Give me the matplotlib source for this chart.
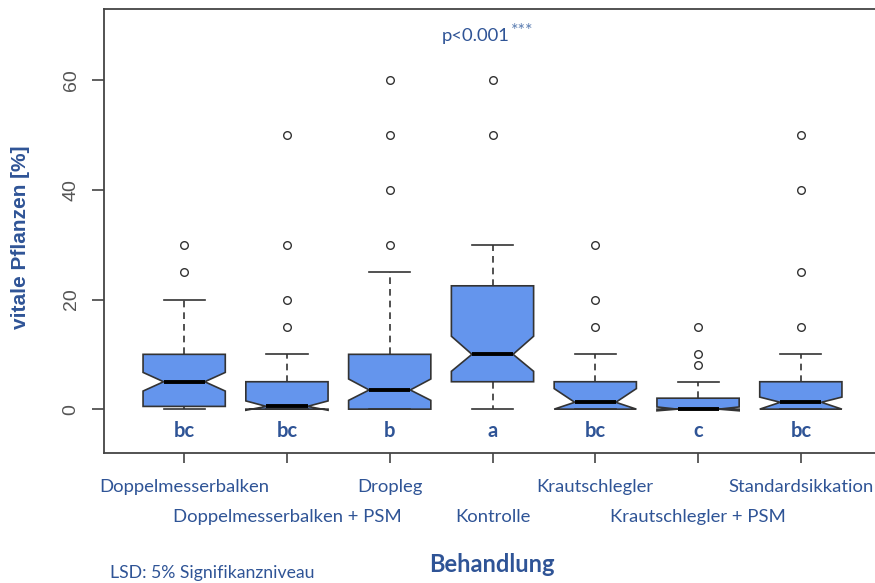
import matplotlib
matplotlib.use("Agg")
import matplotlib.pyplot as plt

# ---- data ----
groups = ["Doppelmesserbalken", "Doppelmesserbalken + PSM", "Dropleg", "Kontrolle",
          "Krautschlegler", "Krautschlegler + PSM", "Standardsikkation"]
whislo = [0, 0, 0, 0, 0, 0, 0]
q1 = [0.5, 0, 0, 5, 0, 0, 0]
med = [5, 0.5, 3.5, 10, 1.25, 0, 1.25]
q3 = [10, 5, 10, 22.5, 5, 2, 5]
whishi = [20, 10, 25, 30, 10, 5, 10]
cilo = [3.3, -0.2, 1.6, 6.9, 0, -0.3, 0]
cihi = [6.7, 1.5, 5.5, 13.3, 3.75, 0.4, 2.2]
fliers = [[25, 30], [15, 20, 30, 50], [30, 40, 50, 60], [50, 60],
          [15, 20, 30], [8, 10, 15], [15, 25, 40, 50]]
letters = ["bc", "bc", "b", "a", "bc", "c", "bc"]
yticks = [0, 20, 40, 60]

BLUE = "#2F5496"
FONT = "Lato"

fig = plt.figure(figsize=(8.75, 5.83), dpi=100)
ax = fig.add_axes([104 / 875, 1 - 453 / 583, (881 - 104) / 875, (453 - 9) / 583])

stats = []
for i in range(len(groups)):
    stats.append(dict(label=groups[i], whislo=whislo[i], q1=q1[i], med=med[i], q3=q3[i],
                      whishi=whishi[i], cilo=cilo[i], cihi=cihi[i], fliers=fliers[i]))

pos = list(range(1, len(groups) + 1))
ax.bxp(stats, positions=pos, widths=0.8, shownotches=True, patch_artist=True,
       boxprops=dict(facecolor="#6495ED", edgecolor="#333333", linewidth=1.2),
       medianprops=dict(color="black", linewidth=2.8, solid_capstyle="butt"),
       whiskerprops=dict(color="#333333", linewidth=1.2, linestyle=(0, (4, 3))),
       capprops=dict(color="#333333", linewidth=1.2),
       flierprops=dict(marker="o", markerfacecolor="none", markeredgecolor="#333333",
                       markersize=5.5, markeredgewidth=1.0))

ax.set_xlim(0.22, 7.78)
ax.set_ylim(-8, 73)

for s in ax.spines.values():
    s.set_color("#444444")
    s.set_linewidth(1.3)

ax.set_yticks(yticks)
ax.set_yticklabels([str(v) for v in yticks], rotation=90, va="center",
                   fontfamily="Liberation Sans", fontsize=14, color="#555555")
ax.tick_params(axis="y", length=8.6, width=1.2, color="#444444", pad=9)

ax.set_xticks(pos)
ax.set_xticklabels(groups, fontfamily=FONT, fontsize=13.3, color=BLUE)
ax.tick_params(axis="x", length=7, width=1.2, color="#444444")
for i, t in enumerate(ax.xaxis.get_major_ticks()):
    t.set_pad(12 if i % 2 == 0 else 33)

for i, l in enumerate(letters):
    ax.text(pos[i], -4.0, l, ha="center", va="center", fontfamily=FONT,
            fontweight="bold", fontsize=14.5, color=BLUE)

ax.text(4.17, 68, "p<0.001", ha="right", va="center", fontfamily=FONT,
        fontsize=13.3, color=BLUE)
ax.text(4.18, 68.9, "***", ha="left", va="center", fontfamily=FONT,
        fontsize=13, color="#5B7DB1")

fig.text(20.7 / 875, 1 - 237 / 583, "vitale Pflanzen [%]", rotation=90, ha="center",
         va="center", fontfamily="Liberation Sans", fontweight="bold", fontsize=15,
         color=BLUE)
fig.text(492 / 875, 1 - 564 / 583, "Behandlung", ha="center", va="center",
         fontfamily=FONT, fontweight="bold", fontsize=17, color=BLUE)
fig.text(110 / 875, 1 - 573 / 583, "LSD: 5% Signifikanzniveau", ha="left", va="center",
         fontfamily=FONT, fontsize=12.7, color=BLUE)

fig.savefig("out.png", dpi=100)
